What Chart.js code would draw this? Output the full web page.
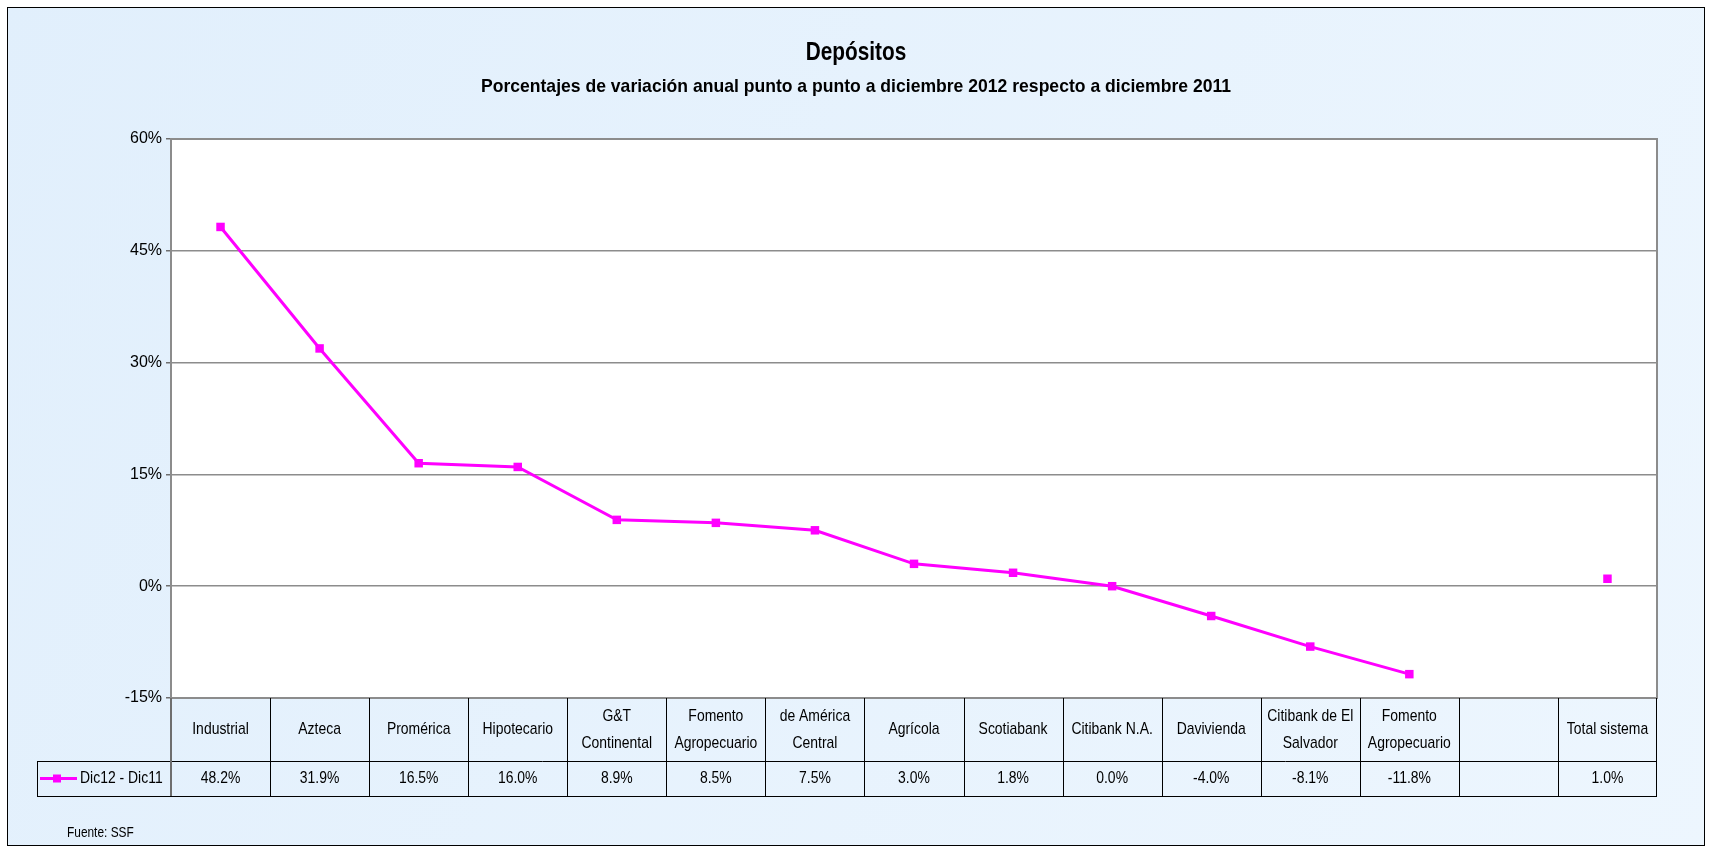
<!DOCTYPE html>
<html>
<head>
<meta charset="utf-8">
<script src="https://cdn.jsdelivr.net/npm/chart.js@4.4.1/dist/chart.umd.min.js"></script>
<style>
  html, body { margin: 0; padding: 0; background: #fff; }
  #wrap { width: 1712px; height: 853px; }
</style>
</head>
<body>
<div id="wrap"><canvas id="chart"></canvas></div>
<script>
// data
var categories = [
  'Industrial', 'Azteca', 'Promérica', 'Hipotecario', ['G&T', 'Continental'],
  ['Fomento', 'Agropecuario'], ['de América', 'Central'], 'Agrícola', 'Scotiabank',
  'Citibank N.A.', 'Davivienda', ['Citibank de El', 'Salvador'], ['Fomento', 'Agropecuario'],
  '', 'Total sistema'
];
var seriesName = 'Dic12 - Dic11';
var values = [48.2, 31.9, 16.5, 16.0, 8.9, 8.5, 7.5, 3.0, 1.8, 0.0, -4.0, -8.1, -11.8, null, 1.0];
var yTicks = [-15, 0, 15, 30, 45, 60];

var title = 'Depósitos';
var subtitle = 'Porcentajes de variación anual punto a punto a diciembre 2012 respecto a diciembre 2011';
var source = 'Fuente: SSF';

var FONT = '"Liberation Sans Narrow", "Arial Narrow", "Liberation Sans", sans-serif';
var MAGENTA = '#ff00ff';

function fmt(v) {
  return v === null ? '' : v.toFixed(1) + '%';
}

// squeezed text, the original uses a narrow font
function narrowText(ctx, text, x, y, sx) {
  ctx.save();
  ctx.translate(x, y);
  ctx.scale(sx, 1);
  ctx.fillText(text, 0, 0);
  ctx.restore();
}

var frame = {
  id: 'frame',
  beforeDraw: function (chart) {
    var ctx = chart.ctx, a = chart.chartArea;
    ctx.save();
    ctx.fillStyle = '#ffffff';
    ctx.fillRect(0, 0, chart.width, chart.height);
    var g = ctx.createLinearGradient(0, 0, chart.width, chart.height);
    g.addColorStop(0, '#e1effc');
    g.addColorStop(1, '#edf6fe');
    ctx.fillStyle = g;
    ctx.fillRect(7, 7, 1698, 839);
    ctx.strokeStyle = '#000';
    ctx.lineWidth = 1;
    ctx.strokeRect(7.5, 7.5, 1697, 838);
    ctx.fillStyle = '#ffffff';
    ctx.fillRect(a.left, a.top, a.right - a.left, a.bottom - a.top);

    ctx.fillStyle = '#000';
    ctx.textAlign = 'center';
    ctx.textBaseline = 'middle';
    ctx.font = 'bold 26px ' + FONT;
    narrowText(ctx, title, 856, 53, 0.8);
    ctx.font = 'bold 19px ' + FONT;
    narrowText(ctx, subtitle, 856, 87, 0.925);
    ctx.textAlign = 'left';
    ctx.font = '14px ' + FONT;
    narrowText(ctx, source, 67, 833, 0.85);
    ctx.restore();
  },
  afterDraw: function (chart) {
    var ctx = chart.ctx, a = chart.chartArea;
    var xs = chart.scales.x;
    var band = (a.right - a.left) / categories.length;
    var top = a.bottom, mid = 761, bot = 796;
    ctx.save();
    // plot outline
    ctx.strokeStyle = '#8c8c8c';
    ctx.lineWidth = 2;
    ctx.strokeRect(a.left, a.top, a.right - a.left, a.bottom - a.top);

    // table
    ctx.strokeStyle = '#000';
    ctx.lineWidth = 1;
    ctx.beginPath();
    ctx.moveTo(a.left, mid + 0.5); ctx.lineTo(a.right, mid + 0.5);
    ctx.moveTo(37, mid + 0.5); ctx.lineTo(a.left, mid + 0.5);
    ctx.moveTo(37, bot + 0.5); ctx.lineTo(a.right, bot + 0.5);
    ctx.moveTo(37.5, mid); ctx.lineTo(37.5, bot);
    for (var i = 1; i < categories.length; i++) {
      var bx = Math.round(xs.getPixelForValue(i) - band / 2) + 0.5;
      ctx.moveTo(bx, top); ctx.lineTo(bx, bot);
    }
    ctx.moveTo(a.right - 0.5, top); ctx.lineTo(a.right - 0.5, bot);
    ctx.stroke();
    ctx.strokeStyle = '#6e6e6e';
    ctx.lineWidth = 2;
    ctx.beginPath();
    ctx.moveTo(a.left, top); ctx.lineTo(a.left, bot);
    ctx.stroke();

    ctx.fillStyle = '#000';
    ctx.font = '17px ' + FONT;
    ctx.textAlign = 'center';
    ctx.textBaseline = 'middle';
    categories.forEach(function (c, i) {
      var cx = xs.getPixelForValue(i);
      var lines = Array.isArray(c) ? c : [c];
      var lh = 27;
      var y0 = (top + mid) / 2 - (lines.length - 1) * lh / 2;
      lines.forEach(function (l, k) { narrowText(ctx, l, cx, y0 + k * lh, 0.82); });
      narrowText(ctx, fmt(values[i]), cx, (mid + bot) / 2, 0.82);
    });

    // legend key
    var ly = (mid + bot) / 2;
    ctx.strokeStyle = MAGENTA;
    ctx.lineWidth = 3;
    ctx.beginPath();
    ctx.moveTo(40, ly); ctx.lineTo(77, ly);
    ctx.stroke();
    ctx.fillStyle = MAGENTA;
    ctx.fillRect(53, ly - 4, 8, 8);
    ctx.fillStyle = '#000';
    ctx.textAlign = 'left';
    narrowText(ctx, seriesName, 80, ly, 0.82);
    ctx.restore();
  }
};

new Chart(document.getElementById('chart'), {
  type: 'line',
  data: {
    labels: categories,
    datasets: [{
      label: seriesName,
      data: values,
      borderColor: MAGENTA,
      backgroundColor: MAGENTA,
      borderWidth: 3,
      pointStyle: 'rect',
      pointRadius: 6,
      pointBorderWidth: 0,
      pointHoverRadius: 6,
      spanGaps: false,
      tension: 0
    }]
  },
  options: {
    responsive: true,
    maintainAspectRatio: false,
    animation: false,
    layout: { padding: { left: 0, top: 139, right: 55, bottom: 155 } },
    plugins: {
      legend: { display: false },
      title: { display: false },
      tooltip: { enabled: false }
    },
    scales: {
      x: {
        type: 'category',
        offset: true,
        display: false
      },
      y: {
        min: yTicks[0],
        max: yTicks[yTicks.length - 1],
        afterFit: function (s) { s.width = 171; },
        afterBuildTicks: function (s) { s.ticks = yTicks.map(function (v) { return { value: v }; }); },
        ticks: {
          callback: function (v) { return v + '%'; },
          color: '#000',
          font: { family: FONT, size: 16 },
          padding: 4
        },
        grid: {
          color: '#8c8c8c',
          lineWidth: 1.5,
          tickLength: 5,
          tickColor: '#6e6e6e'
        },
        border: { color: '#6e6e6e', width: 2 }
      }
    }
  },
  plugins: [frame]
});
</script>
</body>
</html>
